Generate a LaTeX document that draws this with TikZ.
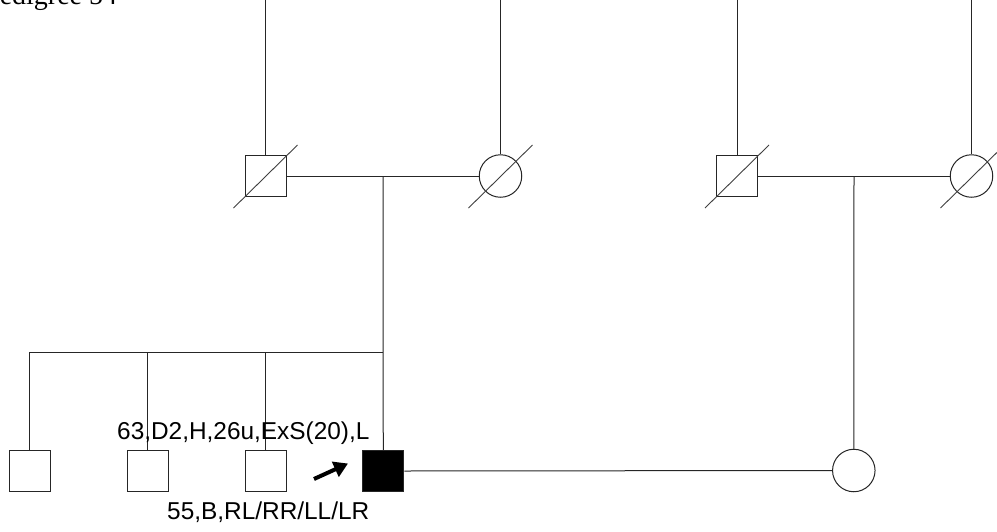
\documentclass[tikz,border=0pt]{standalone}
\usepackage{fontspec}
\setmainfont{Liberation Sans}
\newfontfamily\titlefont{Liberation Serif}
\usetikzlibrary{arrows.meta,calc}
\begin{document}
\begin{tikzpicture}[x=1pt,y=-1pt,
  pline/.style={draw=black!85,line width=1pt},
  male/.style={pline,rectangle,minimum size=41pt,inner sep=0pt,fill=white},
  affmale/.style={male,fill=black},
  female/.style={pline,circle,minimum size=42.5pt,inner sep=0pt,fill=white},
  dec/.style={draw=black!75,line width=0.9pt},
  lab/.style={anchor=base west,inner sep=0pt,font=\fontsize{24.4}{27}\selectfont},
  proband/.style={line width=4pt,-{Triangle[length=14pt,width=16pt]}}]
\useasboundingbox (0,0) rectangle (997,531);
\clip (0,0) rectangle (997,531);
\node[anchor=base west,inner sep=0pt,font=\titlefont\fontsize{28}{30}\selectfont] (title) at (-16,4) {Pedigree 54};
% grandparents left
\node[male] (gf1) at (265.5,176) {};
\node[female] (gm1) at (500.5,176) {};
% grandparents right
\node[male] (gf2) at (737,176) {};
\node[female] (gm2) at (971.5,176) {};
% lines to top
\coordinate (t1) at (265.5,0);
\coordinate (t2) at (500.5,0);
\coordinate (t3) at (737,0);
\coordinate (t4) at (971.5,0);
\draw[pline] (t1) -- (gf1.north);
\draw[pline] (t2) -- (gm1.north);
\draw[pline] (t3) -- (gf2.north);
\draw[pline] (t4) -- (gm2.north);
% marriage lines
\draw[pline] (gf1.east) -- (gm1.west);
\draw[pline] (gf2.east) -- (gm2.west);
\coordinate (m1) at (383,176);
\coordinate (m2) at (854,176);
% deceased slashes
\draw[dec] ($(gf1)+(-32,32)$) -- ($(gf1)+(32,-31)$);
\draw[dec] ($(gm1)+(-32,32)$) -- ($(gm1)+(32,-31)$);
\draw[dec] ($(gf2)+(-32,32)$) -- ($(gf2)+(32,-31)$);
\draw[dec] ($(gm2)+(-31,32)$) -- ($(gm2)+(33,-31)$);
% children
\node[male] (c1) at (29.8,471) {};
\node[male] (c2) at (147.5,471) {};
\node[male] (c3) at (265.5,471) {};
\node[affmale] (c4) at (383.3,471) {};
\node[female] (sp) at (853.8,470.5) {};
\coordinate (s0) at (29.8,352);
\coordinate (s1) at (147.5,352);
\coordinate (s2) at (265.5,352);
\coordinate (s3) at (383,352);
\draw[pline] (m1) -- (s3) -- (c4.north);
\draw[pline] (s3) -- (s0) -- (c1.north);
\draw[pline] (s1) -- (c2.north);
\draw[pline] (s2) -- (c3.north);
\draw[pline] (m2) -- (sp.north);
\draw[pline] (c4.east) -- (sp.west);
% proband arrow
\coordinate (pa) at (314,479);
\coordinate (pb) at (348,463.5);
\draw[proband] (pa) -- (pb);
% labels
\node[lab] (l1) at (117,439) {63,D2,H,26u,ExS(20),L};
\node[lab] (l2) at (167,519) {55,B,RL/RR/LL/LR};
\end{tikzpicture}
\end{document}
